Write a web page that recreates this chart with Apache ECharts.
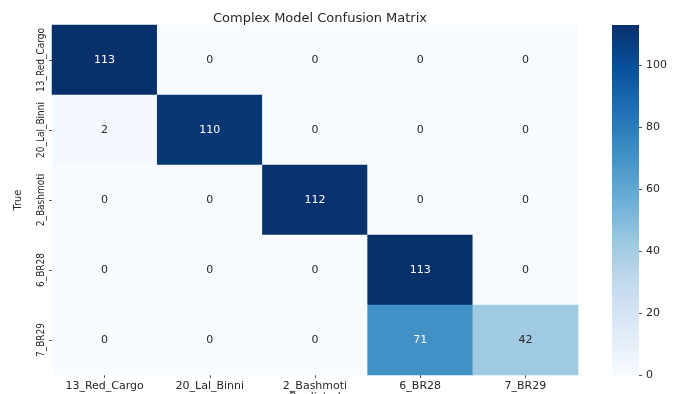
<!DOCTYPE html>
<html>
<head>
<meta charset="utf-8">
<script src="https://cdn.jsdelivr.net/npm/echarts@6/dist/echarts.min.js"></script>
<style>
  html, body { margin: 0; padding: 0; background: #ffffff; }
  #chart { width: 680px; height: 394px; }
</style>
</head>
<body>
<div id="chart"></div>
<script>
// Class names shared by both axes
const classes = ['13_Red_Cargo', '20_Lal_Binni', '2_Bashmoti', '6_BR28', '7_BR29'];

// Confusion matrix counts, one row per true class (columns = predicted class)
const rowRedCargo = [113, 0, 0, 0, 0];
const rowLalBinni = [2, 110, 0, 0, 0];
const rowBashmoti = [0, 0, 112, 0, 0];
const rowBR28 = [0, 0, 0, 113, 0];
const rowBR29 = [0, 0, 0, 71, 42];
const matrixRows = [rowRedCargo, rowLalBinni, rowBashmoti, rowBR28, rowBR29];

// Colour bar range and tick labels
const colorMin = 0;
const colorMax = 113;
const colorTicks = [0, 20, 40, 60, 80, 100];

// Matplotlib "Blues" colour ramp
const blues = ['#f7fbff', '#deebf7', '#c6dbef', '#9ecae1', '#6baed6',
               '#4292c6', '#2171b5', '#08519c', '#08306b'];

const cells = [];
matrixRows.forEach((row, r) => {
  row.forEach((v, c) => {
    cells.push({
      value: [c, r, v],
      label: { color: v > 55 ? '#ffffff' : '#262626' }
    });
  });
});

// Vertical gradient for the colour bar (bottom = low, top = high)
const barGradient = new echarts.graphic.LinearGradient(0, 1, 0, 0,
  blues.map((c, i) => ({ offset: i / (blues.length - 1), color: c })));

const font = 'DejaVu Sans';
const narrow = "'Liberation Sans Narrow', 'DejaVu Sans Condensed', 'Liberation Sans', sans-serif";
const hiddenAxis = {
  show: false,
  axisLine: { show: false }, axisTick: { show: false },
  axisLabel: { show: false }, splitLine: { show: false }
};
const chart = echarts.init(document.getElementById('chart'), null, { renderer: 'canvas' });

chart.setOption({
  animation: false,
  backgroundColor: '#ffffff',
  title: {
    text: 'Complex Model Confusion Matrix',
    left: 315,
    textAlign: 'center',
    top: 7,
    textStyle: { fontFamily: font, fontSize: 13, fontWeight: 'normal', color: '#262626' }
  },
  grid: [
    // heatmap
    { left: 52, top: 25, width: 526, height: 350, containLabel: false, outerBoundsMode: 'none' },
    // colour bar body
    {
      left: 612, top: 25, width: 27, height: 350, containLabel: false, outerBoundsMode: 'none',
      show: true, backgroundColor: barGradient, borderWidth: 0
    },
    // colour bar scale
    { left: 639, top: 25, width: 1, height: 350, containLabel: false, outerBoundsMode: 'none' }
  ],
  xAxis: [
    {
      type: 'category',
      data: classes,
      gridIndex: 0,
      name: 'Predicted',
      nameLocation: 'middle',
      nameGap: 17,
      nameMoveOverlap: false,
      nameTextStyle: { fontFamily: font, fontSize: 11, color: '#262626' },
      axisLine: { show: false },
      axisTick: { show: true, alignWithLabel: true, length: 3, lineStyle: { color: '#555' } },
      axisLabel: { fontFamily: font, fontSize: 11, color: '#262626', margin: 6, interval: 0 },
      splitArea: { show: false }
    },
    Object.assign({ type: 'value', gridIndex: 1, min: 0, max: 1 }, hiddenAxis),
    Object.assign({ type: 'value', gridIndex: 2, min: 0, max: 1 }, hiddenAxis)
  ],
  yAxis: [
    {
      type: 'category',
      data: classes,
      gridIndex: 0,
      inverse: true,
      name: 'True',
      nameLocation: 'middle',
      nameGap: 28,
      nameRotate: 90,
      nameMoveOverlap: false,
      nameTextStyle: { fontFamily: narrow, fontSize: 11, color: '#262626' },
      axisLine: { show: false },
      axisTick: { show: true, alignWithLabel: true, length: 3, lineStyle: { color: '#555' } },
      axisLabel: {
        fontFamily: narrow,
        fontSize: 10,
        color: '#262626',
        rotate: 90,
        margin: 6,
        interval: 0
      },
      splitArea: { show: false }
    },
    Object.assign({ type: 'value', gridIndex: 1, min: colorMin, max: colorMax }, hiddenAxis),
    {
      type: 'value',
      gridIndex: 2,
      position: 'right',
      min: colorMin,
      max: colorMax,
      axisLine: { show: false },
      splitLine: { show: false },
      axisTick: { show: true, length: 3, customValues: colorTicks, lineStyle: { color: '#555' } },
      axisLabel: { fontFamily: font, fontSize: 11, color: '#262626', margin: 6, customValues: colorTicks }
    }
  ],
  visualMap: {
    type: 'continuous',
    show: false,
    seriesIndex: 0,
    min: colorMin,
    max: colorMax,
    inRange: { color: blues }
  },
  series: [
    {
      type: 'heatmap',
      xAxisIndex: 0,
      yAxisIndex: 0,
      data: cells,
      label: { show: true, fontFamily: font, fontSize: 11 },
      itemStyle: { borderWidth: 0 },
      emphasis: { disabled: true }
    }
  ]
});
</script>
</body>
</html>
